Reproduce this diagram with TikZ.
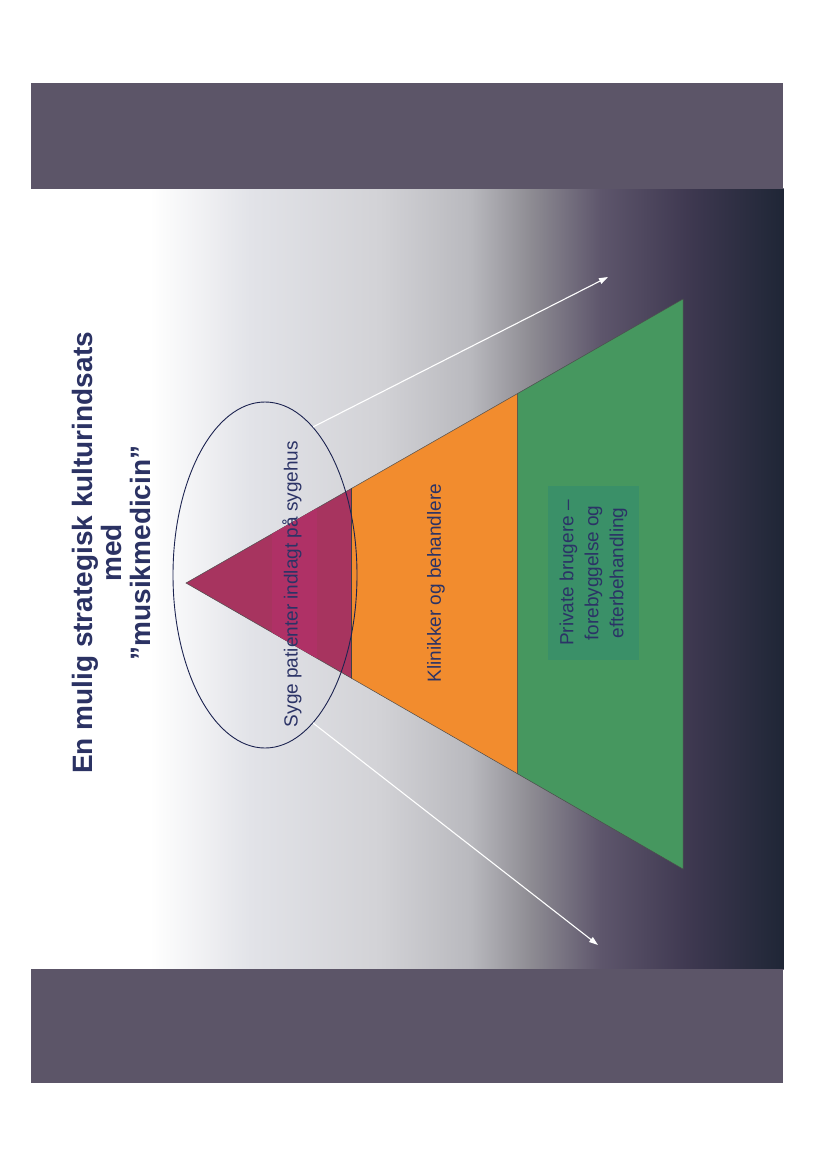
\documentclass[tikz,border=0pt]{standalone}
\usepackage{fontspec}
\setmainfont{Liberation Sans}
\usetikzlibrary{arrows.meta,positioning,calc,shapes.geometric}

\definecolor{bandgray}{HTML}{5C5568}
\definecolor{bgA}{HTML}{E2E3E8}
\definecolor{bgB}{HTML}{D2D2D6}
\definecolor{bgC}{HTML}{B9B9BE}
\definecolor{bgD}{HTML}{8E8C93}
\definecolor{bgE}{HTML}{5E566C}
\definecolor{bgF}{HTML}{3E3850}
\definecolor{bgG}{HTML}{1F2636}
\definecolor{tiermag}{HTML}{A7345F}
\definecolor{tiermagbox}{HTML}{AF3166}
\definecolor{tierorange}{HTML}{F28C2E}
\definecolor{tiergreen}{HTML}{46975F}
\definecolor{greenbox}{HTML}{3A9068}
\definecolor{navytext}{HTML}{2B3366}
\definecolor{titleblue}{HTML}{2B3263}
\definecolor{ringblue}{HTML}{1C2350}

\tikzset{
  tier/.style={draw=black!70, line width=0.5pt},
  tierlabel/.style={rotate=90, text=navytext, font=\fontsize{19}{25}\selectfont, align=center, inner sep=0pt},
  spread/.style={draw=white, line width=1.1pt, -{Triangle[length=9pt,width=6pt]}},
}

\begin{document}
\begin{tikzpicture}[x=1pt,y=-1pt]
\useasboundingbox (0,0) rectangle (825,1168);
\fill[white] (0,0) rectangle (825,1168);

% slide background
\fill[white] (31,188) rectangle (151,969);
\foreach \xa/\xb/\ca/\cb in {150/250/white/bgA, 250/380/bgA/bgB, 380/470/bgB/bgC, 470/530/bgC/bgD, 530/600/bgD/bgE, 600/690/bgE/bgF, 690/783/bgF/bgG}
  \shade[left color=\ca, right color=\cb] (\xa,188) rectangle (\xb+0.5,969);

% bands
\fill[bandgray] (31,83) rectangle (783,189);
\fill[bandgray] (31,969) rectangle (783,1083);

% pyramid
\coordinate (apex) at (186,583);
\coordinate (baseT) at (683,299);
\coordinate (baseB) at (683,869);
\coordinate (midT) at ($(apex)!1/3!(baseT)$);
\coordinate (midB) at ($(apex)!1/3!(baseB)$);
\coordinate (lowT) at ($(apex)!2/3!(baseT)$);
\coordinate (lowB) at ($(apex)!2/3!(baseB)$);
\draw[tier, fill=tiergreen] (lowT) -- (baseT) -- (baseB) -- (lowB) -- cycle;
\draw[tier, fill=tierorange] (midT) -- (lowT) -- (lowB) -- (midB) -- cycle;
\draw[tier, fill=tiermag] (apex) -- (midT) -- (midB) -- cycle;
\begin{scope}
  \clip (apex) -- (midT) -- (midB) -- cycle;
  \fill[tiermagbox] (272,400) rectangle (317,760);
\end{scope}
\draw[black!75, line width=1.2pt] (midT) -- (midB);

% ellipse and arrows
\node[ellipse, draw=ringblue, line width=0.9pt, minimum width=184pt, minimum height=346pt, inner sep=0pt] (ring) at (265,575) {};
\coordinate (upTip) at (608,277);
\coordinate (downTip) at (598,945);
\draw[spread] (ring.72.6) -- (upTip);
\draw[spread] (ring.-72.6) -- (downTip);

% labels
\node[tierlabel] (sick) at (292,584) {Syge patienter indlagt på sygehus};
\node[tierlabel] (clinic) at (436,583) {Klinikker og behandlere};
\node[tierlabel, fill=greenbox, minimum width=174pt, minimum height=91pt] (private) at (593.5,573) {Private brugere –\\forebyggelse og\\efterbehandling};
\node[rotate=90, text=titleblue, font=\fontsize{28}{29}\bfseries, align=center] (title) at (111,553) {En mulig strategisk kulturindsats\\med\\”musikmedicin”};
\end{tikzpicture}
\end{document}
